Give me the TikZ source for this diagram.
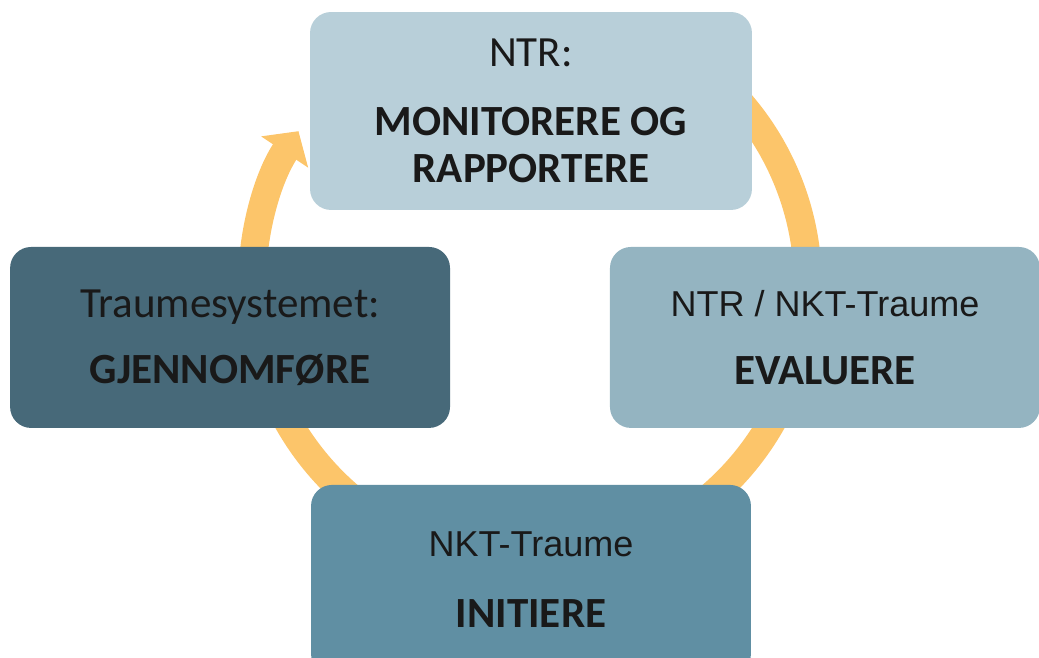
\documentclass[tikz,border=0pt]{standalone}
\usepackage{fontspec}
\setmainfont{Carlito}
\newfontfamily\arialfont{Liberation Sans}
\usetikzlibrary{arrows.meta,calc}
\definecolor{ringOrange}{RGB}{252,197,106}
\definecolor{monitorBlue}{RGB}{184,207,217}
\definecolor{evaluateBlue}{RGB}{148,180,193}
\definecolor{initiateBlue}{RGB}{96,143,163}
\definecolor{executeBlue}{RGB}{71,105,121}
\newcommand{\arialline}{\arialfont\fontsize{20.5}{24}\selectfont}
\tikzset{%
  % Specifications for style of nodes:
     base/.style = {rectangle, rounded corners=0.42cm, draw=none,
                    minimum width=8.8cm, minimum height=3.62cm,
                    text centered, align=center, text=black!90},
    monitorBox/.style = {base, minimum width=8.84cm, minimum height=3.96cm, fill=monitorBlue},
    evaluateBox/.style = {base, minimum width=8.6cm, fill=evaluateBlue},
    initiateBox/.style = {base, minimum height=3.8cm, fill=initiateBlue},
    executeBox/.style = {base, fill=executeBlue},
    cycleArrow/.style = {draw=ringOrange, line width=0.56cm,
                         -{Triangle[width=1.1cm,length=0.5cm]}},
}

\begin{document}
\begin{tikzpicture}[x=0.02cm, y=0.02cm, node distance=4.53cm,
    every node/.style={font=\fontsize{24.5}{27}\selectfont}]
  \useasboundingbox (0,0) rectangle (1039,657);
  % Ring arrow, drawn first so that the boxes cover it
  \coordinate (ringCenter) at (530,372);
  \coordinate (ringStart) at ($(ringCenter)+(60:278)$);
  \draw[cycleArrow] (ringStart) arc[start angle=60, end angle=-213.6, radius=278];

  % Specification of nodes (position, etc.)
  \node (monitor)  [monitorBox] at (531,546)
                   {NTR:\\[12pt]
                    \textbf{MONITORERE OG}\\
                    \textbf{RAPPORTERE}};

  \node (evaluate) [evaluateBox, below of=monitor, xshift=5.88cm]
                   {{\arialline NTR / NKT-Traume}\\[11.8pt]
                    \textbf{EVALUERE}};

  \node (initiate) [initiateBox, below of=monitor, yshift=-4.85cm]
                   {{\arialline NKT-Traume}\\[13.5pt]
                    \textbf{INITIERE}};

  \node (execute)  [executeBox, below of=monitor, xshift=-6.02cm]
                   {Traumesystemet:\\[10.4pt]
                    \textbf{GJENNOMFØRE}};
\end{tikzpicture}
\end{document}
